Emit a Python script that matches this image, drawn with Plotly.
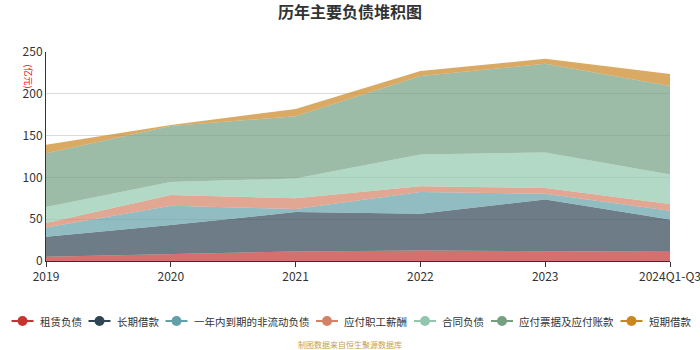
import plotly.graph_objects as go

years = ["2019", "2020", "2021", "2022", "2023", "2024Q1-Q3"]
names = ["租赁负债", "长期借款", "一年内到期的非流动负债", "应付职工薪酬", "合同负债", "应付票据及应付账款", "短期借款"]
lease = [5.0, 8.0, 11.5, 12.7, 12.3, 11.0]
long_loan = [24.0, 35.0, 47.0, 43.7, 61.3, 38.5]
current_ncl = [11.0, 23.0, 3.6, 26.0, 6.7, 10.7]
salary = [5.5, 13.0, 13.0, 7.0, 7.0, 8.0]
contract = [19.0, 15.6, 23.6, 38.0, 42.5, 35.4]
payables = [64.5, 67.0, 74.4, 94.0, 106.0, 105.7]
short_loan = [10.0, 1.0, 8.7, 6.0, 6.0, 14.4]
series = [lease, long_loan, current_ncl, salary, contract, payables, short_loan]
colors = ["#c23531", "#2f4554", "#61a0a8", "#d48265", "#91c7ae", "#749f83", "#ca8622"]

W, H = 700, 350
ML, MR, MT, MB = 46, 30, 52, 89
PW, PH = W - ML - MR, H - MT - MB


def rgba(h, a):
    h = h.lstrip("#")
    return "rgba(%d,%d,%d,%s)" % (int(h[0:2], 16), int(h[2:4], 16), int(h[4:6], 16), a)


def px(x):
    return (x - ML) / PW


def py(y):
    return (H - MB - y) / PH


fig = go.Figure()
for n, v, c in zip(names, series, colors):
    fig.add_trace(go.Scatter(x=years, y=v, name=n, mode="lines", stackgroup="one",
                             line=dict(width=0, color=c), fillcolor=rgba(c, 0.7),
                             showlegend=False, hoverinfo="x+y+name"))

font = "Noto Sans CJK SC"
shapes = []
annotations = []

# legend drawn as a single centered row (line + circle glyph, then label)
LFS = 10.5
sym_w, sym_gap, item_gap = 22, 4, 9
widths = [sym_w + sym_gap + LFS * len(n) for n in names]
total = sum(widths) + item_gap * (len(names) - 1)
x = W / 2 - total / 2
ly = 321
for n, c, w in zip(names, colors, widths):
    shapes.append(dict(type="line", xref="paper", yref="paper",
                       x0=px(x), x1=px(x + sym_w), y0=py(ly), y1=py(ly),
                       line=dict(color=c, width=2)))
    cx = x + sym_w / 2
    shapes.append(dict(type="circle", xref="paper", yref="paper",
                       x0=px(cx - 5), x1=px(cx + 5), y0=py(ly - 5), y1=py(ly + 5),
                       fillcolor=c, line=dict(color=c, width=0)))
    annotations.append(dict(text=n, x=px(x + sym_w + sym_gap), y=py(ly), xref="paper", yref="paper",
                            xanchor="left", yanchor="middle", showarrow=False,
                            font=dict(size=LFS, color="#333", family=font)))
    x += w + item_gap

annotations.append(dict(text="(亿元)", x=px(20), y=py(62), xref="paper", yref="paper", showarrow=False,
                        textangle=90, font=dict(size=9, color="red", family=font)))
annotations.append(dict(text="制图数据来自恒生聚源数据库", x=0.5 * (W) / PW - ML / PW, y=py(344),
                        xref="paper", yref="paper", showarrow=False, xanchor="center", yanchor="middle",
                        font=dict(size=8, color="#c9a04a", family=font)))

fig.update_layout(
    width=W, height=H,
    margin=dict(l=ML, r=MR, t=MT, b=MB, autoexpand=False),
    paper_bgcolor="white", plot_bgcolor="white",
    font=dict(family=font, size=12, color="#333"),
    title=dict(text="<b>历年主要负债堆积图</b>", x=0.5, xanchor="center", y=1 - 12 / H, yanchor="middle",
               font=dict(size=16, color="#333", family=font)),
    xaxis=dict(type="category", range=[0, 5], showgrid=False, showline=True, linecolor="#333",
               ticks="outside", ticklen=5, tickcolor="#333", tickfont=dict(size=12, color="#333"),
               automargin=False),
    yaxis=dict(range=[0, 250], dtick=50, showgrid=True, gridcolor="#dcdcdc", gridwidth=1,
               showline=True, linecolor="#333", ticks="", tickfont=dict(size=12, color="#333"),
               zeroline=False, automargin=False),
    showlegend=False,
    shapes=shapes,
    annotations=annotations,
)
fig.write_html("out.html")
